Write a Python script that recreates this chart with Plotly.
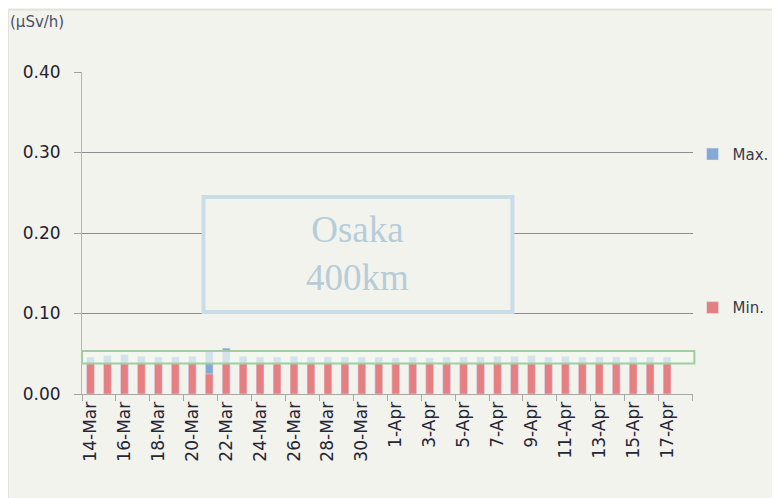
import plotly.graph_objects as go

dates = ["14-Mar","15-Mar","16-Mar","17-Mar","18-Mar","19-Mar","20-Mar","21-Mar","22-Mar","23-Mar",
         "24-Mar","25-Mar","26-Mar","27-Mar","28-Mar","29-Mar","30-Mar","31-Mar",
         "1-Apr","2-Apr","3-Apr","4-Apr","5-Apr","6-Apr","7-Apr","8-Apr","9-Apr","10-Apr",
         "11-Apr","12-Apr","13-Apr","14-Apr","15-Apr","16-Apr","17-Apr"]
max_vals = [0.046,0.048,0.049,0.047,0.046,0.046,0.047,0.053,0.057,0.047,
            0.046,0.046,0.047,0.046,0.046,0.046,0.046,0.046,
            0.045,0.046,0.045,0.046,0.046,0.046,0.047,0.047,0.048,0.046,
            0.047,0.046,0.046,0.046,0.046,0.046,0.046]
min_vals = [0.038,0.038,0.038,0.038,0.038,0.038,0.038,0.025,0.038,0.038,
            0.038,0.038,0.038,0.038,0.038,0.038,0.038,0.038,
            0.038,0.038,0.038,0.038,0.038,0.038,0.038,0.038,0.038,0.038,
            0.038,0.038,0.038,0.038,0.038,0.038,0.038]
y_ticks = [0.0, 0.1, 0.2, 0.3, 0.4]
y_ticklabels = ["0.00", "0.10", "0.20", "0.30", "0.40"]

idx = list(range(len(dates)))
label_idx = idx[::2]
label_txt = [dates[i] for i in label_idx]

BG = "#f3f3ee"
FONT = "DejaVu Sans"
fig = go.Figure()
fig.add_trace(go.Bar(x=idx, y=max_vals, name="Max.", marker_color="#85a8d6",
                     width=0.46, legendgroup="a"))
fig.add_trace(go.Bar(x=idx, y=min_vals, name="Min.", marker_color="#e67f82",
                     width=0.46, legendgroup="b"))

fig.update_layout(
    width=764, height=490,
    margin=dict(l=74, r=68, t=64, b=104),
    paper_bgcolor=BG, plot_bgcolor=BG,
    barmode="overlay",
    font=dict(family=FONT, color="#2b2b3a"),
    legend=dict(xref="container", yref="container", x=0.896, y=0.735,
                xanchor="left", yanchor="top",
                bgcolor="rgba(0,0,0,0)", tracegroupgap=131,
                font=dict(size=15, color="#3a3a4a"), itemwidth=30),
    showlegend=True,
)
fig.update_xaxes(range=[-0.5, 35.5], tickmode="array", tickvals=label_idx, ticktext=label_txt,
                 tickangle=-90, ticks="", showgrid=False, showline=True, linecolor="#a8a8a8",
                 linewidth=1, tickfont=dict(size=17, color="#262636"), zeroline=False,
                 automargin=False,
                 minor=dict(tickmode="linear", tick0=-0.5, dtick=2, ticks="outside",
                            ticklen=6, tickcolor="#a8a8a8", showgrid=False))
fig.update_yaxes(range=[0, 0.40], tickmode="array", tickvals=y_ticks, ticktext=y_ticklabels,
                 showgrid=True, gridcolor="#8c8c8c", gridwidth=1, zeroline=False,
                 showline=True, linecolor="#b5b5b5", ticks="outside", ticklen=7,
                 tickcolor="#a0a0a0", tickfont=dict(size=17, color="#222232"),
                 ticklabelstandoff=10, automargin=False)

# highlight band
fig.add_shape(type="rect", xref="paper", yref="y", x0=0, x1=1.003, y0=0.038, y1=0.0535,
              line=dict(color="#9dcf9f", width=2), fillcolor="rgba(242,248,240,0.72)",
              layer="above")
# Osaka box
fig.add_shape(type="rect", xref="paper", yref="paper", x0=0.199, x1=0.705, y0=0.255, y1=0.612,
              line=dict(color="#c8dde8", width=4), fillcolor=BG, layer="above")
fig.add_annotation(xref="paper", yref="paper", x=0.452, y=0.435, text="Osaka<br>400km",
                   showarrow=False, font=dict(family="Liberation Serif", size=37, color="#b6cdd8"))
fig.add_annotation(xref="paper", yref="paper", x=-0.121, y=1.155, xanchor="left", yanchor="middle",
                   text="(µSv/h)", showarrow=False, font=dict(size=15, color="#4a5068"))
# outer faint chart border
fig.add_shape(type="rect", xref="paper", yref="paper", x0=-0.121, x1=1.3, y0=-0.5, y1=1.193,
              line=dict(color="#d8d8d4", width=1), fillcolor="rgba(0,0,0,0)", layer="below")

fig.write_html("out.html")
